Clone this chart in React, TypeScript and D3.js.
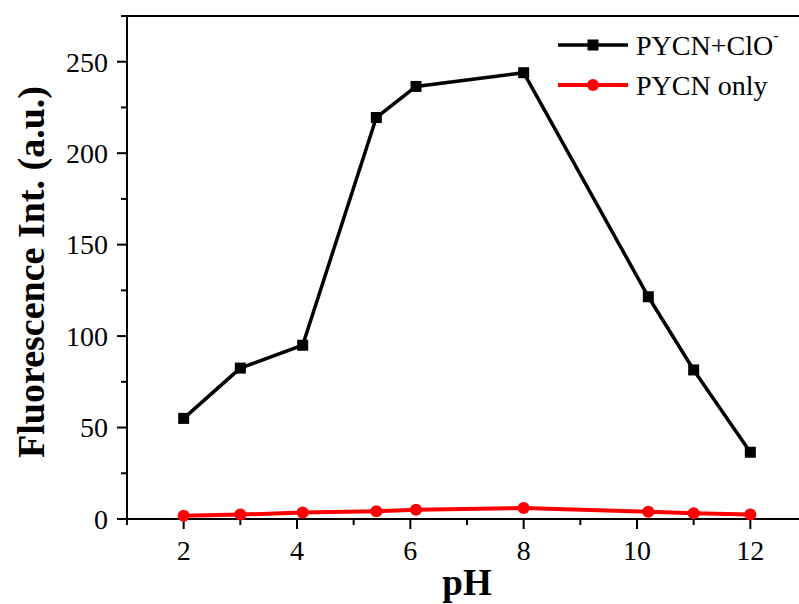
import React from "react";
import * as d3 from "d3";

const phValues = [2, 3, 4.1, 5.4, 6.1, 8, 10.2, 11, 12];
const withClO = [55, 82.5, 95, 219.5, 236.5, 244, 121.5, 81.5, 36.5];
const pycnOnly = [1.8, 2.4, 3.6, 4.3, 5, 6, 4, 3.2, 2.4];
const xMajorTicks = [2, 4, 6, 8, 10, 12];
const xMinorTicks = [1, 3, 5, 7, 9, 11, 13];
const yMajorTicks = [0, 50, 100, 150, 200, 250];
const yMinorTicks = [25, 75, 125, 175, 225, 275];
const seriesNames = ["PYCN+ClO", "PYCN only"];

const W = 799;
const H = 604;
const left = 127;
const right = 807;
const top = 16;
const bottom = 519;
const font = "'Liberation Serif', 'Times New Roman', serif";

export default function App() {
  const x = d3.scaleLinear().domain([1, 13]).range([left, right]);
  const y = d3.scaleLinear().domain([0, 275]).range([bottom, top]);
  const line = d3
    .line<number>()
    .x((_, i) => x(phValues[i]))
    .y((d) => y(d));

  return (
    <svg
      width={W}
      height={H}
      style={{ position: "absolute", left: 0, top: 0, background: "#fff" }}
      fontFamily={font}
    >
      <rect x={0} y={0} width={W} height={H} fill="#fff" />
      {/* frame */}
      <rect
        x={left}
        y={top}
        width={right - left}
        height={bottom - top}
        fill="none"
        stroke="#000"
        strokeWidth={2}
      />
      <line x1={left - 5} x2={left} y1={top} y2={top} stroke="#000" strokeWidth={2} />
      {/* y ticks */}
      {yMajorTicks.map((t) => (
        <g key={"ym" + t}>
          <line x1={left - 10} x2={left} y1={y(t)} y2={y(t)} stroke="#000" strokeWidth={2} />
          <text x={left - 19} y={y(t)} dy="0.35em" textAnchor="end" fontSize={28}>
            {t}
          </text>
        </g>
      ))}
      {yMinorTicks.map((t) => (
        <line key={"yn" + t} x1={left - 6} x2={left} y1={y(t)} y2={y(t)} stroke="#000" strokeWidth={2} />
      ))}
      {/* x ticks */}
      {xMajorTicks.map((t) => (
        <g key={"xm" + t}>
          <line x1={x(t)} x2={x(t)} y1={bottom} y2={bottom + 10} stroke="#000" strokeWidth={2} />
          <text x={x(t)} y={bottom + 41} textAnchor="middle" fontSize={28}>
            {t}
          </text>
        </g>
      ))}
      {xMinorTicks.map((t) => (
        <line key={"xn" + t} x1={x(t)} x2={x(t)} y1={bottom} y2={bottom + 6} stroke="#000" strokeWidth={2} />
      ))}
      {/* axis titles */}
      <text
        transform={`translate(44, 272) rotate(-90)`}
        textAnchor="middle"
        fontSize={38}
        fontWeight="bold"
      >
        Fluorescence Int. (a.u.)
      </text>
      <text x={467} y={595} textAnchor="middle" fontSize={37} fontWeight="bold">
        pH
      </text>
      {/* series */}
      <path d={line(withClO) || ""} fill="none" stroke="#000" strokeWidth={3.5} />
      {withClO.map((v, i) => (
        <rect key={"b" + i} x={x(phValues[i]) - 5.5} y={y(v) - 5.5} width={11} height={11} fill="#000" />
      ))}
      <path d={line(pycnOnly) || ""} fill="none" stroke="#ff0000" strokeWidth={4} />
      {pycnOnly.map((v, i) => (
        <circle key={"r" + i} cx={x(phValues[i])} cy={y(v)} r={6} fill="#ff0000" />
      ))}
      {/* legend */}
      <line x1={558} x2={628} y1={45} y2={45} stroke="#000" strokeWidth={3.5} />
      <rect x={593 - 5.5} y={45 - 5.5} width={11} height={11} fill="#000" />
      <text x={636} y={55} fontSize={28}>
        {seriesNames[0]}
        <tspan fontSize={16} dy={-14}>-</tspan>
      </text>
      <line x1={558} x2={628} y1={85} y2={85} stroke="#ff0000" strokeWidth={4} />
      <circle cx={593} cy={85} r={6} fill="#ff0000" />
      <text x={636} y={95} fontSize={28}>
        {seriesNames[1]}
      </text>
    </svg>
  );
}
